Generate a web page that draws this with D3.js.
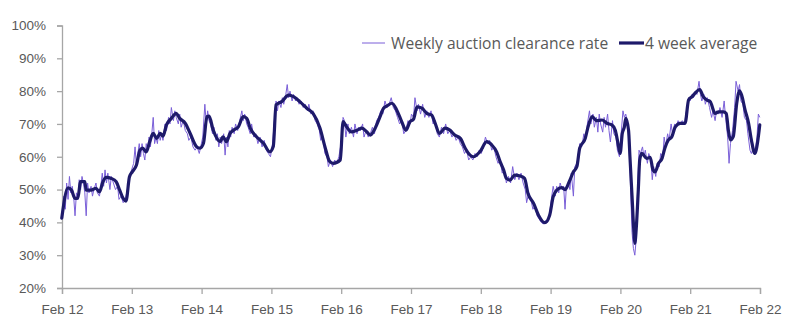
<!DOCTYPE html>
<html>
<head>
<meta charset="utf-8">
<script src="https://cdn.jsdelivr.net/npm/d3@7/dist/d3.min.js"></script>
<style>
  html, body { margin: 0; padding: 0; background: #fff; }
  svg { display: block; font-family: "Open Sans", "DejaVu Sans", sans-serif; }
</style>
</head>
<body>
<svg id="chart" width="793" height="331"></svg>
<script>
// ---- data (decimal year, clearance rate %) ----
const xTickYears = [2012, 2013, 2014, 2015, 2016, 2017, 2018, 2019, 2020, 2021, 2022];
const xTickLabels = ["Feb 12", "Feb 13", "Feb 14", "Feb 15", "Feb 16", "Feb 17", "Feb 18", "Feb 19", "Feb 20", "Feb 21", "Feb 22"];
const yTicks = [20, 30, 40, 50, 60, 70, 80, 90, 100];
const seriesNames = ["Weekly auction clearance rate", "4 week average"];

const weekly = [
  [2012.08, 41], [2012.11, 48], [2012.13, 44], [2012.15, 52], [2012.17, 47], [2012.19, 54], [2012.21, 49], [2012.23, 51],
  [2012.25, 48], [2012.27, 42], [2012.29, 49], [2012.31, 47], [2012.33, 53], [2012.35, 50], [2012.37, 54], [2012.39, 52],
  [2012.41, 49], [2012.43, 42], [2012.45, 52], [2012.47, 49], [2012.50, 51], [2012.52, 48], [2012.54, 50], [2012.57, 52],
  [2012.59, 49], [2012.62, 48], [2012.64, 51], [2012.66, 55], [2012.68, 51], [2012.70, 56], [2012.72, 52], [2012.74, 55],
  [2012.77, 50], [2012.79, 54], [2012.82, 52], [2012.85, 50], [2012.88, 51], [2012.90, 47], [2012.93, 48], [2012.96, 46],
  [2012.99, 47], [2013.02, 50], [2013.05, 54], [2013.08, 56],
  [2013.11, 58], [2013.13, 63], [2013.15, 57], [2013.17, 61], [2013.19, 64], [2013.21, 60], [2013.23, 64], [2013.25, 61],
  [2013.27, 59], [2013.29, 64], [2013.31, 62], [2013.33, 66], [2013.35, 63], [2013.37, 67], [2013.39, 72], [2013.41, 64],
  [2013.43, 66], [2013.45, 64], [2013.47, 68], [2013.49, 65], [2013.51, 67], [2013.53, 65], [2013.56, 70], [2013.58, 68],
  [2013.61, 72], [2013.63, 70], [2013.65, 75], [2013.68, 71], [2013.70, 74], [2013.72, 72], [2013.75, 70], [2013.77, 73],
  [2013.79, 69], [2013.82, 71], [2013.85, 68], [2013.88, 67], [2013.90, 65], [2013.93, 66], [2013.96, 63], [2013.99, 62],
  [2014.02, 63], [2014.05, 61], [2014.08, 64],
  [2014.10, 66], [2014.13, 76], [2014.15, 70], [2014.17, 74], [2014.19, 71], [2014.21, 70], [2014.24, 67], [2014.26, 69],
  [2014.29, 65], [2014.31, 67], [2014.33, 63], [2014.35, 66], [2014.37, 64], [2014.40, 67], [2014.42, 60.5], [2014.44, 66],
  [2014.46, 63], [2014.48, 68], [2014.50, 66], [2014.52, 69], [2014.55, 67], [2014.57, 70], [2014.60, 68], [2014.63, 71],
  [2014.66, 74], [2014.68, 71], [2014.70, 73], [2014.73, 70], [2014.75, 69], [2014.78, 67], [2014.80, 70], [2014.83, 66],
  [2014.86, 67], [2014.89, 64], [2014.92, 66], [2014.95, 63], [2014.98, 65], [2015.01, 62], [2015.04, 61], [2015.07, 60],
  [2015.10, 64], [2015.13, 72], [2015.15, 77], [2015.17, 74], [2015.19, 77], [2015.22, 75], [2015.24, 78], [2015.26, 76],
  [2015.29, 79], [2015.31, 82], [2015.33, 78], [2015.35, 80], [2015.38, 77], [2015.40, 79], [2015.43, 77], [2015.45, 78],
  [2015.48, 76], [2015.51, 77], [2015.54, 75], [2015.57, 76], [2015.60, 74], [2015.62, 76], [2015.65, 73], [2015.68, 74],
  [2015.71, 71], [2015.74, 70], [2015.77, 68], [2015.79, 65], [2015.82, 66], [2015.85, 61], [2015.88, 60], [2015.90, 57],
  [2015.93, 59], [2015.96, 57], [2015.99, 59], [2016.02, 58], [2016.05, 60],
  [2016.09, 65], [2016.11, 72], [2016.13, 71], [2016.15, 66], [2016.18, 70], [2016.20, 67], [2016.23, 69], [2016.26, 66],
  [2016.28, 70], [2016.31, 67], [2016.33, 69], [2016.36, 68], [2016.39, 70], [2016.41, 66], [2016.44, 68], [2016.47, 66],
  [2016.50, 67], [2016.53, 69], [2016.56, 67], [2016.59, 71], [2016.62, 72], [2016.65, 74], [2016.68, 73], [2016.71, 77],
  [2016.74, 75], [2016.77, 76], [2016.80, 78], [2016.83, 75], [2016.86, 74], [2016.89, 72], [2016.92, 70], [2016.95, 71],
  [2016.98, 67], [2017.01, 68], [2017.04, 71], [2017.07, 70],
  [2017.09, 73], [2017.12, 72], [2017.14, 78], [2017.17, 74], [2017.19, 76], [2017.22, 73], [2017.25, 76], [2017.28, 72],
  [2017.31, 74], [2017.34, 72], [2017.37, 74], [2017.40, 70], [2017.43, 71], [2017.46, 67], [2017.49, 66], [2017.52, 69],
  [2017.55, 67], [2017.58, 70], [2017.61, 67], [2017.64, 68], [2017.67, 66], [2017.70, 67], [2017.73, 65], [2017.76, 66],
  [2017.79, 64], [2017.82, 63], [2017.85, 61], [2017.88, 62], [2017.91, 59], [2017.94, 60], [2017.97, 59], [2018.00, 61],
  [2018.03, 60], [2018.06, 62], [2018.09, 61],
  [2018.12, 63], [2018.15, 66], [2018.18, 64], [2018.21, 65], [2018.24, 62], [2018.27, 63], [2018.30, 60], [2018.33, 58],
  [2018.36, 59], [2018.39, 55], [2018.42, 56], [2018.45, 52], [2018.48, 54], [2018.51, 52], [2018.54, 57], [2018.57, 53],
  [2018.60, 55], [2018.63, 53], [2018.66, 55], [2018.69, 52], [2018.72, 50], [2018.74, 46], [2018.77, 49], [2018.80, 47],
  [2018.83, 44], [2018.86, 45], [2018.89, 42], [2018.92, 41], [2018.95, 40], [2018.98, 39.5], [2019.01, 40.5], [2019.04, 40],
  [2019.07, 43],
  [2019.10, 48], [2019.12, 51], [2019.15, 48], [2019.17, 51], [2019.20, 49], [2019.22, 52], [2019.25, 50], [2019.27, 51],
  [2019.29, 44], [2019.31, 51], [2019.34, 52], [2019.36, 50], [2019.38, 55], [2019.41, 48], [2019.43, 57], [2019.46, 58],
  [2019.48, 60], [2019.50, 64], [2019.53, 63], [2019.56, 67], [2019.58, 65], [2019.61, 70], [2019.64, 74], [2019.66, 70],
  [2019.69, 73], [2019.71, 69], [2019.74, 72], [2019.76, 67.5], [2019.78, 73], [2019.80, 70], [2019.83, 67.5], [2019.85, 72],
  [2019.87, 69], [2019.90, 73], [2019.92, 68], [2019.94, 64.5], [2019.97, 71], [2019.99, 67], [2020.02, 66], [2020.04, 62],
  [2020.07, 60], [2020.09, 66], [2020.12, 74], [2020.14, 72], [2020.16, 73],
  [2020.19, 70], [2020.21, 64], [2020.23, 50], [2020.25, 37], [2020.27, 32], [2020.29, 30], [2020.31, 35], [2020.33, 50],
  [2020.35, 62], [2020.37, 61], [2020.40, 63], [2020.42, 60], [2020.44, 62], [2020.47, 58], [2020.49, 61], [2020.52, 59],
  [2020.54, 53], [2020.56, 57], [2020.59, 54], [2020.61, 58], [2020.64, 57], [2020.66, 61], [2020.69, 60], [2020.71, 66],
  [2020.73, 63], [2020.76, 67], [2020.78, 65], [2020.81, 70], [2020.83, 67], [2020.86, 70], [2020.88, 69], [2020.91, 71],
  [2020.94, 70], [2020.97, 71], [2021.00, 70], [2021.03, 74], [2021.06, 78], [2021.08, 77], [2021.11, 79], [2021.13, 78],
  [2021.16, 80], [2021.18, 79], [2021.21, 83], [2021.23, 79], [2021.25, 77], [2021.28, 79], [2021.30, 76], [2021.33, 78],
  [2021.36, 75], [2021.39, 72], [2021.41, 74], [2021.44, 71], [2021.46, 74], [2021.49, 73], [2021.51, 75], [2021.54, 72],
  [2021.57, 77], [2021.59, 72], [2021.62, 66], [2021.64, 58], [2021.66, 64], [2021.69, 68], [2021.72, 75], [2021.74, 83],
  [2021.77, 80], [2021.79, 82], [2021.81, 77], [2021.84, 76], [2021.86, 72], [2021.89, 71], [2021.91, 67], [2021.94, 62],
  [2021.96, 61], [2021.99, 63], [2022.01, 61], [2022.04, 66], [2022.06, 73], [2022.08, 72]
];

const fourWeekAvg = [
  [2012.08, 41.3], [2012.17, 50.5], [2012.22, 49.8], [2012.27, 47.3], [2012.31, 47.4], [2012.35, 52.4], [2012.41, 52.4],
  [2012.43, 49.8], [2012.50, 49.8], [2012.57, 50.4], [2012.62, 49.3], [2012.67, 52.4], [2012.72, 53.7], [2012.79, 53.4],
  [2012.86, 52.4], [2012.91, 49.8], [2012.96, 47.3], [2013.00, 46.5], [2013.05, 53.9], [2013.09, 55.4], [2013.15, 57.5],
  [2013.20, 62.0], [2013.24, 62.6], [2013.29, 61.5], [2013.34, 64.6], [2013.39, 67.1], [2013.44, 65.6], [2013.49, 67.1],
  [2013.53, 66.3], [2013.58, 69.7], [2013.65, 71.7], [2013.72, 73.2], [2013.77, 71.7], [2013.85, 70.2], [2013.92, 67.1],
  [2014.01, 63.1], [2014.06, 62.6], [2014.11, 64.1], [2014.16, 72.2], [2014.19, 72.4], [2014.25, 68.1], [2014.35, 64.6],
  [2014.39, 66.1], [2014.44, 64.6], [2014.49, 67.1], [2014.54, 68.1], [2014.61, 69.1], [2014.68, 72.2], [2014.73, 71.7],
  [2014.78, 68.7], [2014.87, 66.1], [2014.97, 64.1], [2015.06, 61.5], [2015.11, 63.1], [2015.15, 75.8], [2015.23, 76.8],
  [2015.33, 78.8], [2015.40, 78.3], [2015.49, 76.8], [2015.59, 74.8], [2015.68, 73.2], [2015.78, 68.7], [2015.85, 63.1],
  [2015.92, 58.5], [2015.97, 58.0], [2016.07, 59.0], [2016.11, 70.7], [2016.16, 69.1], [2016.23, 67.6], [2016.31, 68.1],
  [2016.38, 68.7], [2016.45, 67.6], [2016.50, 66.6], [2016.57, 68.7], [2016.64, 72.2], [2016.69, 74.8], [2016.74, 75.5],
  [2016.81, 76.3], [2016.88, 74.2], [2016.95, 70.7], [2017.01, 68.1], [2017.07, 70.7], [2017.12, 71.5], [2017.17, 75.2],
  [2017.24, 74.8], [2017.31, 73.2], [2017.38, 72.7], [2017.43, 70.2], [2017.49, 67.1], [2017.57, 68.7], [2017.64, 68.1],
  [2017.71, 66.6], [2017.79, 65.6], [2017.86, 62.6], [2017.93, 60.5], [2017.98, 60.0], [2018.07, 61.5], [2018.17, 64.6],
  [2018.24, 63.6], [2018.31, 61.5], [2018.36, 58.5], [2018.41, 56.0], [2018.45, 53.4], [2018.50, 52.9], [2018.57, 54.4],
  [2018.65, 54.1], [2018.71, 53.4], [2018.76, 48.8], [2018.84, 45.8], [2018.91, 42.2], [2019.00, 39.9], [2019.07, 42.2],
  [2019.12, 47.8], [2019.17, 49.8], [2019.24, 50.6], [2019.29, 50.0], [2019.35, 52.4], [2019.41, 55.4], [2019.46, 57.0],
  [2019.50, 62.6], [2019.58, 65.6], [2019.62, 69.1], [2019.68, 72.2], [2019.74, 71.0], [2019.82, 71.2], [2019.89, 70.2],
  [2019.96, 69.7], [2020.01, 68.1], [2020.04, 65.1], [2020.08, 61.0], [2020.11, 67.1], [2020.14, 69.1], [2020.16, 71.7],
  [2020.20, 68.1], [2020.22, 60.0], [2020.25, 48.0], [2020.28, 36.0], [2020.29, 33.6], [2020.31, 38.0], [2020.34, 50.0],
  [2020.36, 59.0], [2020.39, 61.0], [2020.46, 59.5], [2020.51, 59.8], [2020.55, 56.0], [2020.58, 55.4], [2020.63, 58.0],
  [2020.68, 59.5], [2020.72, 62.6], [2020.77, 65.1], [2020.82, 66.1], [2020.87, 69.1], [2020.94, 70.2], [2021.01, 70.2],
  [2021.06, 77.3], [2021.11, 78.3], [2021.15, 79.3], [2021.22, 80.5], [2021.27, 78.3], [2021.32, 77.3], [2021.37, 76.8],
  [2021.44, 73.2], [2021.49, 73.7], [2021.56, 73.7], [2021.60, 73.2], [2021.63, 68.1], [2021.66, 65.1], [2021.70, 66.1],
  [2021.75, 76.3], [2021.79, 80.1], [2021.82, 78.8], [2021.87, 74.2], [2021.92, 70.2], [2021.96, 65.1], [2022.01, 61.0],
  [2022.05, 64.6], [2022.08, 69.7]
];

// ---- drawing ----
const svg = d3.select("#chart");
const FEB = 1 / 12;
const x = d3.scaleLinear().domain([2012 + FEB, 2022 + FEB]).range([62, 760]);
const y = d3.scaleLinear().domain([20, 100]).range([288, 25.5]);

const axisColor = "#a6a6a6";
const textColor = "#595959";
const weeklyColor = "#7a5fd8";
const avgColor = "#1e1a6a";

// y axis
const yAxis = d3.axisLeft(y).tickValues(yTicks).tickSize(5).tickPadding(11)
  .tickFormat(d => d + "%");
const gy = svg.append("g").attr("transform", "translate(62,0)").call(yAxis);
gy.select(".domain").attr("stroke", axisColor).attr("stroke-width", 1.3);
gy.selectAll(".tick line").attr("stroke", axisColor).attr("stroke-width", 1.3);
gy.selectAll(".tick text").attr("fill", textColor).attr("font-size", 13.5);

// x axis
const xAxis = d3.axisBottom(x).tickValues(xTickYears.map(v => v + FEB)).tickSize(6).tickPadding(10)
  .tickFormat((d, i) => xTickLabels[i]);
const gx = svg.append("g").attr("transform", "translate(0,288)").call(xAxis);
gx.select(".domain").attr("stroke", axisColor).attr("stroke-width", 1.3);
gx.selectAll(".tick line").attr("stroke", axisColor).attr("stroke-width", 1.3);
gx.selectAll(".tick text").attr("fill", textColor).attr("font-size", 13.5);

// lines
const line = d3.line().x(d => x(d[0])).y(d => y(d[1]));
svg.append("path").datum(weekly)
  .attr("fill", "none").attr("stroke", weeklyColor).attr("stroke-width", 1)
  .attr("stroke-linejoin", "round").attr("d", line);
svg.append("path").datum(fourWeekAvg)
  .attr("fill", "none").attr("stroke", avgColor).attr("stroke-width", 3.2)
  .attr("stroke-linejoin", "round").attr("stroke-linecap", "round")
  .attr("d", line.curve(d3.curveMonotoneX));

// legend
const lg = svg.append("g");
lg.append("line").attr("x1", 362).attr("x2", 385).attr("y1", 43).attr("y2", 43)
  .attr("stroke", weeklyColor).attr("stroke-width", 1);
lg.append("text").attr("x", 391).attr("y", 48.5).attr("fill", textColor).attr("font-size", 15.6)
  .text(seriesNames[0]);
lg.append("line").attr("x1", 619).attr("x2", 644).attr("y1", 43).attr("y2", 43)
  .attr("stroke", avgColor).attr("stroke-width", 3.2);
lg.append("text").attr("x", 645).attr("y", 48.5).attr("fill", textColor).attr("font-size", 15.6)
  .text(seriesNames[1]);
</script>
</body>
</html>
